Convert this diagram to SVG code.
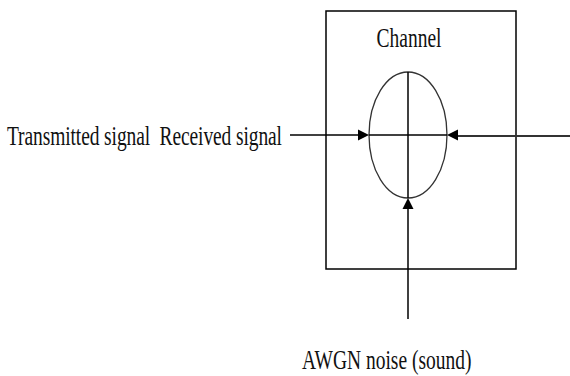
<svg xmlns="http://www.w3.org/2000/svg" width="570" height="376" viewBox="0 0 570 376">
<style>
.t{font-family:"Liberation Serif","Times New Roman",serif;font-size:19.5px;fill:#111;white-space:pre}
.ln{stroke:#000;stroke-width:1.5;fill:none}
.ah{fill:#000}
</style>
<rect width="570" height="376" fill="#fff"/>
<g id="channel">
<rect x="326" y="11" width="190" height="258" fill="none" stroke="#000" stroke-width="1.5"/>
<text class="t" text-anchor="middle" transform="translate(409,47) scale(1,1.35)">Channel</text>
</g>
<g id="constellation">
<ellipse cx="408" cy="135" rx="39" ry="63" fill="none" stroke="#333" stroke-width="1.3"/>
<line class="ln" x1="369" y1="135" x2="447" y2="135"/>
<line class="ln" x1="408" y1="72" x2="408" y2="198"/>
</g>
<g id="signal-label">
<text class="t" transform="translate(7,145) scale(1,1.35)" textLength="275">Transmitted signal  Received signal</text>
</g>
<g id="noise-label">
<text class="t" transform="translate(302,369) scale(1,1.35)">AWGN noise (sound)</text>
</g>
<g id="connectors">
<line class="ln" x1="290" y1="135" x2="360" y2="135"/>
<polygon class="ah" points="369,135 358,129.5 358,140.5"/>
<line x1="456" y1="136" x2="570" y2="136" stroke="#333" stroke-width="2.2"/>
<polygon class="ah" points="447,135 458,129.5 458,140.5"/>
<line class="ln" x1="408" y1="206" x2="408" y2="319"/>
<polygon class="ah" points="408,198 402.5,209 413.5,209"/>
</g>
</svg>
